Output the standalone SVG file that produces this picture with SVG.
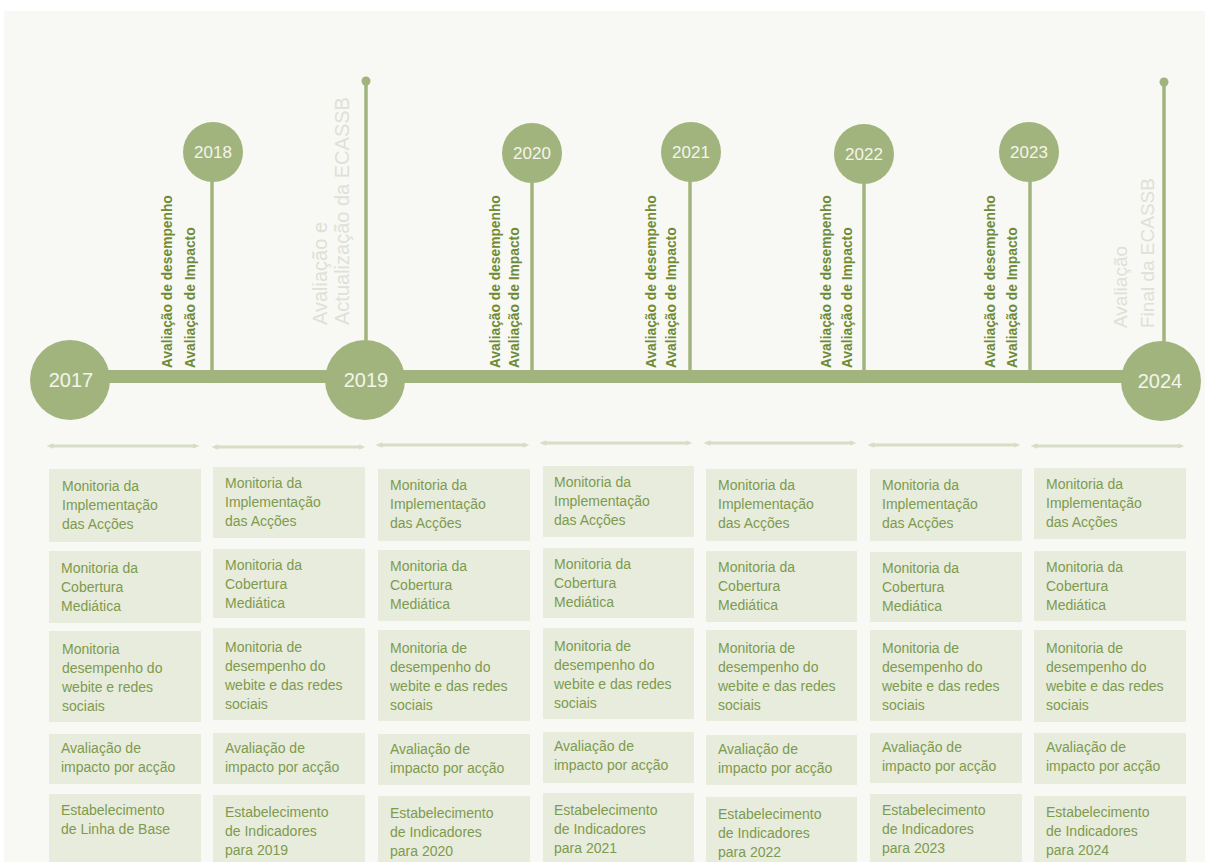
<svg xmlns="http://www.w3.org/2000/svg" width="1205" height="862" viewBox="0 0 1205 862">
<defs>
<style>
.bg{fill:#f8f9f4}
.tl{fill:#a1b47d}
.stem{stroke:#a1b47d;stroke-width:3.5;fill:none}
.yr{font-family:"Liberation Sans",Arial,sans-serif;fill:#f4f5ec;text-anchor:middle}
.yrB{font-size:20px}
.yrS{font-size:17px}
.vt{font-family:"Liberation Sans",Arial,sans-serif;font-size:13.8px;font-weight:bold;fill:#6f8b37}
.gt{font-family:"Liberation Sans",Arial,sans-serif;font-size:19px;fill:#dfe0d6}
.gt2{font-size:20px}
.box{fill:#e8ecdd}
.bt{font-family:"Liberation Sans",Arial,sans-serif;font-size:14px;fill:#7e9a4d}
.arr{stroke:#d6dec6;stroke-width:3;fill:none;marker-start:url(#ah);marker-end:url(#ah)}
</style>
<marker id="ah" viewBox="0 0 10 10" refX="5" refY="5" markerWidth="7" markerHeight="7" markerUnits="userSpaceOnUse" orient="auto-start-reverse">
<path d="M0,1 L10,5 L0,9 z" fill="#d6dec6"/>
</marker>
</defs>
<rect width="1205" height="862" fill="#ffffff"/>
<rect class="bg" x="4" y="11" width="1201" height="851"/>

<g id="connectors">
<rect class="tl" x="70" y="370" width="1091" height="13"/>
<line class="stem" x1="212" y1="180" x2="212" y2="372"/>
<line class="stem" x1="532" y1="180" x2="532" y2="372"/>
<line class="stem" x1="690" y1="180" x2="690" y2="372"/>
<line class="stem" x1="864" y1="182" x2="864" y2="372"/>
<line class="stem" x1="1030" y1="180" x2="1030" y2="372"/>
<line class="stem" x1="366" y1="81" x2="366" y2="345"/>
<circle class="tl" cx="366" cy="81" r="4.5"/>
<line class="stem" x1="1164" y1="82" x2="1164" y2="345"/>
<circle class="tl" cx="1164" cy="82" r="4.5"/>
<line class="arr" x1="50" y1="446" x2="196" y2="446"/>
<line class="arr" x1="215" y1="447" x2="362" y2="447"/>
<line class="arr" x1="379" y1="445" x2="526" y2="445"/>
<line class="arr" x1="543" y1="443" x2="689" y2="443"/>
<line class="arr" x1="707" y1="443" x2="853" y2="443"/>
<line class="arr" x1="871" y1="445" x2="1017" y2="445"/>
<line class="arr" x1="1034" y1="446" x2="1181" y2="446"/>
</g>

<g id="y2017"><circle class="tl" cx="70" cy="380" r="40"/><text class="yr yrB" x="71" y="387">2017</text></g>
<g id="y2019"><circle class="tl" cx="365" cy="380" r="40"/><text class="yr yrB" x="366" y="387">2019</text></g>
<g id="y2024"><circle class="tl" cx="1161" cy="381" r="40"/><text class="yr yrB" x="1160" y="388">2024</text></g>
<g id="y2018"><circle class="tl" cx="213" cy="152" r="30"/><text class="yr yrS" x="213" y="158">2018</text></g>
<g id="y2020"><circle class="tl" cx="532" cy="153" r="30"/><text class="yr yrS" x="532" y="159">2020</text></g>
<g id="y2021"><circle class="tl" cx="691" cy="152" r="30"/><text class="yr yrS" x="691" y="158">2021</text></g>
<g id="y2022"><circle class="tl" cx="864" cy="154" r="30"/><text class="yr yrS" x="864" y="160">2022</text></g>
<g id="y2023"><circle class="tl" cx="1029" cy="152" r="30"/><text class="yr yrS" x="1029" y="158">2023</text></g>

<g id="lab2018">
<text class="vt" transform="translate(172,368) rotate(-90)">Avaliação de desempenho</text>
<text class="vt" transform="translate(195,368) rotate(-90)">Avaliação de Impacto</text>
</g>
<g id="lab2020">
<text class="vt" transform="translate(500,368) rotate(-90)">Avaliação de desempenho</text>
<text class="vt" transform="translate(519,368) rotate(-90)">Avaliação de Impacto</text>
</g>
<g id="lab2021">
<text class="vt" transform="translate(656,368) rotate(-90)">Avaliação de desempenho</text>
<text class="vt" transform="translate(676,368) rotate(-90)">Avaliação de Impacto</text>
</g>
<g id="lab2022">
<text class="vt" transform="translate(831,368) rotate(-90)">Avaliação de desempenho</text>
<text class="vt" transform="translate(852,368) rotate(-90)">Avaliação de Impacto</text>
</g>
<g id="lab2023">
<text class="vt" transform="translate(995,368) rotate(-90)">Avaliação de desempenho</text>
<text class="vt" transform="translate(1017,368) rotate(-90)">Avaliação de Impacto</text>
</g>
<g id="lab2019">
<text class="gt gt2" transform="translate(327,325) rotate(-90)">Avaliação e</text>
<text class="gt gt2" transform="translate(349,325) rotate(-90)">Actualização da ECASSB</text>
</g>
<g id="lab2024">
<text class="gt" transform="translate(1127,328) rotate(-90)">Avaliação</text>
<text class="gt" transform="translate(1154,328) rotate(-90)">Final da ECASSB</text>
</g>

<!-- Column 1 -->
<g id="c1r1"><rect class="box" x="49" y="469" width="152" height="73"/><text class="bt" x="62" y="491">Monitoria da<tspan x="62" dy="19">Implementação</tspan><tspan x="62" dy="19">das Acções</tspan></text></g>
<g id="c1r2"><rect class="box" x="49" y="551" width="152" height="72"/><text class="bt" x="61" y="573">Monitoria da<tspan x="61" dy="19">Cobertura</tspan><tspan x="61" dy="19">Mediática</tspan></text></g>
<g id="c1r3"><rect class="box" x="49" y="631" width="152" height="91"/><text class="bt" x="62" y="654">Monitoria<tspan x="62" dy="19">desempenho do</tspan><tspan x="62" dy="19">webite e redes</tspan><tspan x="62" dy="19">sociais</tspan></text></g>
<g id="c1r4"><rect class="box" x="49" y="734" width="152" height="50"/><text class="bt" x="61" y="753">Avaliação de<tspan x="61" dy="19">impacto por acção</tspan></text></g>
<g id="c1r5"><rect class="box" x="49" y="794" width="152" height="75"/><text class="bt" x="61" y="815">Estabelecimento<tspan x="61" dy="19">de Linha de Base</tspan></text></g>

<!-- Column 2 -->
<g id="c2r1"><rect class="box" x="213" y="467" width="152" height="71"/><text class="bt" x="225" y="488">Monitoria da<tspan x="225" dy="19">Implementação</tspan><tspan x="225" dy="19">das Acções</tspan></text></g>
<g id="c2r2"><rect class="box" x="213" y="549" width="152" height="69"/><text class="bt" x="225" y="570">Monitoria da<tspan x="225" dy="19">Cobertura</tspan><tspan x="225" dy="19">Mediática</tspan></text></g>
<g id="c2r3"><rect class="box" x="213" y="628" width="152" height="92"/><text class="bt" x="225" y="652">Monitoria de<tspan x="225" dy="19">desempenho do</tspan><tspan x="225" dy="19">webite e das redes</tspan><tspan x="225" dy="19">sociais</tspan></text></g>
<g id="c2r4"><rect class="box" x="213" y="733" width="152" height="51"/><text class="bt" x="225" y="753">Avaliação de<tspan x="225" dy="19">impacto por acção</tspan></text></g>
<g id="c2r5"><rect class="box" x="213" y="795" width="152" height="75"/><text class="bt" x="225" y="817">Estabelecimento<tspan x="225" dy="19">de Indicadores</tspan><tspan x="225" dy="19">para 2019</tspan></text></g>

<!-- Column 3 -->
<g id="c3r1"><rect class="box" x="378" y="469" width="152" height="72"/><text class="bt" x="390" y="490">Monitoria da<tspan x="390" dy="19">Implementação</tspan><tspan x="390" dy="19">das Acções</tspan></text></g>
<g id="c3r2"><rect class="box" x="378" y="550" width="152" height="71"/><text class="bt" x="390" y="571">Monitoria da<tspan x="390" dy="19">Cobertura</tspan><tspan x="390" dy="19">Mediática</tspan></text></g>
<g id="c3r3"><rect class="box" x="378" y="630" width="152" height="91"/><text class="bt" x="390" y="653">Monitoria de<tspan x="390" dy="19">desempenho do</tspan><tspan x="390" dy="19">webite e das redes</tspan><tspan x="390" dy="19">sociais</tspan></text></g>
<g id="c3r4"><rect class="box" x="378" y="734" width="152" height="51"/><text class="bt" x="390" y="754">Avaliação de<tspan x="390" dy="19">impacto por acção</tspan></text></g>
<g id="c3r5"><rect class="box" x="378" y="796" width="152" height="75"/><text class="bt" x="390" y="818">Estabelecimento<tspan x="390" dy="19">de Indicadores</tspan><tspan x="390" dy="19">para 2020</tspan></text></g>

<!-- Column 4 -->
<g id="c4r1"><rect class="box" x="543" y="466" width="151" height="71"/><text class="bt" x="554" y="487">Monitoria da<tspan x="554" dy="19">Implementação</tspan><tspan x="554" dy="19">das Acções</tspan></text></g>
<g id="c4r2"><rect class="box" x="543" y="548" width="151" height="70"/><text class="bt" x="554" y="569">Monitoria da<tspan x="554" dy="19">Cobertura</tspan><tspan x="554" dy="19">Mediática</tspan></text></g>
<g id="c4r3"><rect class="box" x="543" y="628" width="151" height="91"/><text class="bt" x="554" y="651">Monitoria de<tspan x="554" dy="19">desempenho do</tspan><tspan x="554" dy="19">webite e das redes</tspan><tspan x="554" dy="19">sociais</tspan></text></g>
<g id="c4r4"><rect class="box" x="543" y="732" width="151" height="51"/><text class="bt" x="554" y="751">Avaliação de<tspan x="554" dy="19">impacto por acção</tspan></text></g>
<g id="c4r5"><rect class="box" x="543" y="793" width="151" height="75"/><text class="bt" x="554" y="815">Estabelecimento<tspan x="554" dy="19">de Indicadores</tspan><tspan x="554" dy="19">para 2021</tspan></text></g>

<!-- Column 5 -->
<g id="c5r1"><rect class="box" x="706" y="469" width="151" height="72"/><text class="bt" x="718" y="490">Monitoria da<tspan x="718" dy="19">Implementação</tspan><tspan x="718" dy="19">das Acções</tspan></text></g>
<g id="c5r2"><rect class="box" x="706" y="551" width="151" height="71"/><text class="bt" x="718" y="572">Monitoria da<tspan x="718" dy="19">Cobertura</tspan><tspan x="718" dy="19">Mediática</tspan></text></g>
<g id="c5r3"><rect class="box" x="706" y="630" width="151" height="91"/><text class="bt" x="718" y="653">Monitoria de<tspan x="718" dy="19">desempenho do</tspan><tspan x="718" dy="19">webite e das redes</tspan><tspan x="718" dy="19">sociais</tspan></text></g>
<g id="c5r4"><rect class="box" x="706" y="735" width="151" height="50"/><text class="bt" x="718" y="754">Avaliação de<tspan x="718" dy="19">impacto por acção</tspan></text></g>
<g id="c5r5"><rect class="box" x="706" y="797" width="151" height="75"/><text class="bt" x="718" y="819">Estabelecimento<tspan x="718" dy="19">de Indicadores</tspan><tspan x="718" dy="19">para 2022</tspan></text></g>

<!-- Column 6 -->
<g id="c6r1"><rect class="box" x="870" y="469" width="152" height="72"/><text class="bt" x="882" y="490">Monitoria da<tspan x="882" dy="19">Implementação</tspan><tspan x="882" dy="19">das Acções</tspan></text></g>
<g id="c6r2"><rect class="box" x="870" y="552" width="152" height="70"/><text class="bt" x="882" y="573">Monitoria da<tspan x="882" dy="19">Cobertura</tspan><tspan x="882" dy="19">Mediática</tspan></text></g>
<g id="c6r3"><rect class="box" x="870" y="630" width="152" height="91"/><text class="bt" x="882" y="653">Monitoria de<tspan x="882" dy="19">desempenho do</tspan><tspan x="882" dy="19">webite e das redes</tspan><tspan x="882" dy="19">sociais</tspan></text></g>
<g id="c6r4"><rect class="box" x="870" y="733" width="152" height="50"/><text class="bt" x="882" y="752">Avaliação de<tspan x="882" dy="19">impacto por acção</tspan></text></g>
<g id="c6r5"><rect class="box" x="870" y="794" width="152" height="75"/><text class="bt" x="882" y="815">Estabelecimento<tspan x="882" dy="19">de Indicadores</tspan><tspan x="882" dy="19">para 2023</tspan></text></g>

<!-- Column 7 -->
<g id="c7r1"><rect class="box" x="1034" y="468" width="152" height="71"/><text class="bt" x="1046" y="489">Monitoria da<tspan x="1046" dy="19">Implementação</tspan><tspan x="1046" dy="19">das Acções</tspan></text></g>
<g id="c7r2"><rect class="box" x="1034" y="551" width="152" height="70"/><text class="bt" x="1046" y="572">Monitoria da<tspan x="1046" dy="19">Cobertura</tspan><tspan x="1046" dy="19">Mediática</tspan></text></g>
<g id="c7r3"><rect class="box" x="1034" y="630" width="152" height="92"/><text class="bt" x="1046" y="653">Monitoria de<tspan x="1046" dy="19">desempenho do</tspan><tspan x="1046" dy="19">webite e das redes</tspan><tspan x="1046" dy="19">sociais</tspan></text></g>
<g id="c7r4"><rect class="box" x="1034" y="733" width="152" height="51"/><text class="bt" x="1046" y="752">Avaliação de<tspan x="1046" dy="19">impacto por acção</tspan></text></g>
<g id="c7r5"><rect class="box" x="1034" y="796" width="152" height="75"/><text class="bt" x="1046" y="817">Estabelecimento<tspan x="1046" dy="19">de Indicadores</tspan><tspan x="1046" dy="19">para 2024</tspan></text></g>
</svg>
